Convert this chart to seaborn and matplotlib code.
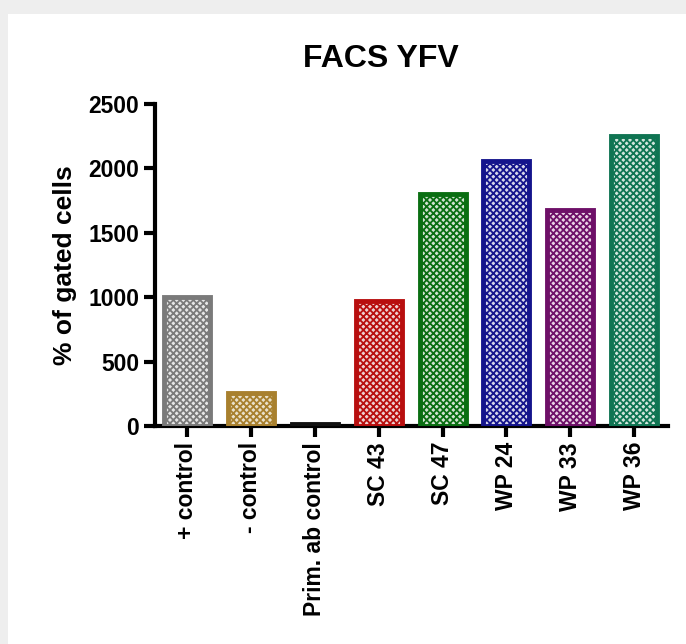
import matplotlib
matplotlib.use("Agg")
import matplotlib.pyplot as plt
from matplotlib.patches import Rectangle
import numpy as np
import pandas as pd
import seaborn as sns

samples = ["+ control", "- control", "Prim. ab control", "SC 43", "SC 47",
           "WP 24", "WP 33", "WP 36"]
gated = [1000, 260, 15, 970, 1800, 2060, 1680, 2250]
edge_colors = ["#7a7a7a", "#a8802e", "#111111", "#b80f0f", "#0a6e12",
               "#14148c", "#6e1068", "#0f7452"]
face_colors = ["#e6e6e6", "#efe3c6", "#dddddd", "#f3cccc", "#cfe6cf",
               "#d2d2ef", "#edcfe8", "#cfe8de"]

df = pd.DataFrame({"sample": samples, "gated": gated})

sns.set_style("ticks")
plt.rcParams["font.family"] = ["Liberation Sans", "DejaVu Sans"]
plt.rcParams["hatch.linewidth"] = 1.3
plt.rcParams["text.color"] = "black"
plt.rcParams["axes.labelcolor"] = "black"
plt.rcParams["xtick.color"] = "black"
plt.rcParams["ytick.color"] = "black"

fig = plt.figure(figsize=(6.86, 6.44), dpi=100)
fig.patch.set_facecolor("#eeeeee")
fig.add_artist(Rectangle((0.012, 0), 0.988, 1 - 14 / 644, transform=fig.transFigure,
                         facecolor="white", edgecolor="none", zorder=0))
ax = fig.add_axes([0.226, 0.3385, 0.748, 0.50])
ax.set_facecolor("none")

sns.barplot(data=df, x="sample", y="gated", hue="sample", palette=face_colors,
            legend=False, width=0.72, ax=ax, zorder=3)
for bar, ec in zip(ax.patches, edge_colors):
    bar.set_edgecolor(ec)
    bar.set_linewidth(3.5)
    bar.set_hatch("xxxxx")

ax.set_ylim(0, 2500)
ax.set_xlim(-0.5, 7.53)
ax.set_yticks([0, 500, 1000, 1500, 2000, 2500])
ax.set_title("FACS YFV", fontsize=23, fontweight="bold", pad=27, color="black",
             x=0.44)
ax.set_ylabel("% of gated cells", fontsize=19, fontweight="bold", labelpad=8)
ax.set_xlabel("")
ax.tick_params(axis="both", width=3, length=8, direction="out", labelsize=16.5,
               color="black", labelcolor="black")
for lab in ax.get_xticklabels():
    lab.set_rotation(90)
    lab.set_fontweight("bold")
for lab in ax.get_yticklabels():
    lab.set_fontweight("bold")
sns.despine(ax=ax)
for s in ["left", "bottom"]:
    ax.spines[s].set_linewidth(3)
    ax.spines[s].set_color("black")

fig.savefig("out.png", dpi=100, facecolor=fig.get_facecolor())
